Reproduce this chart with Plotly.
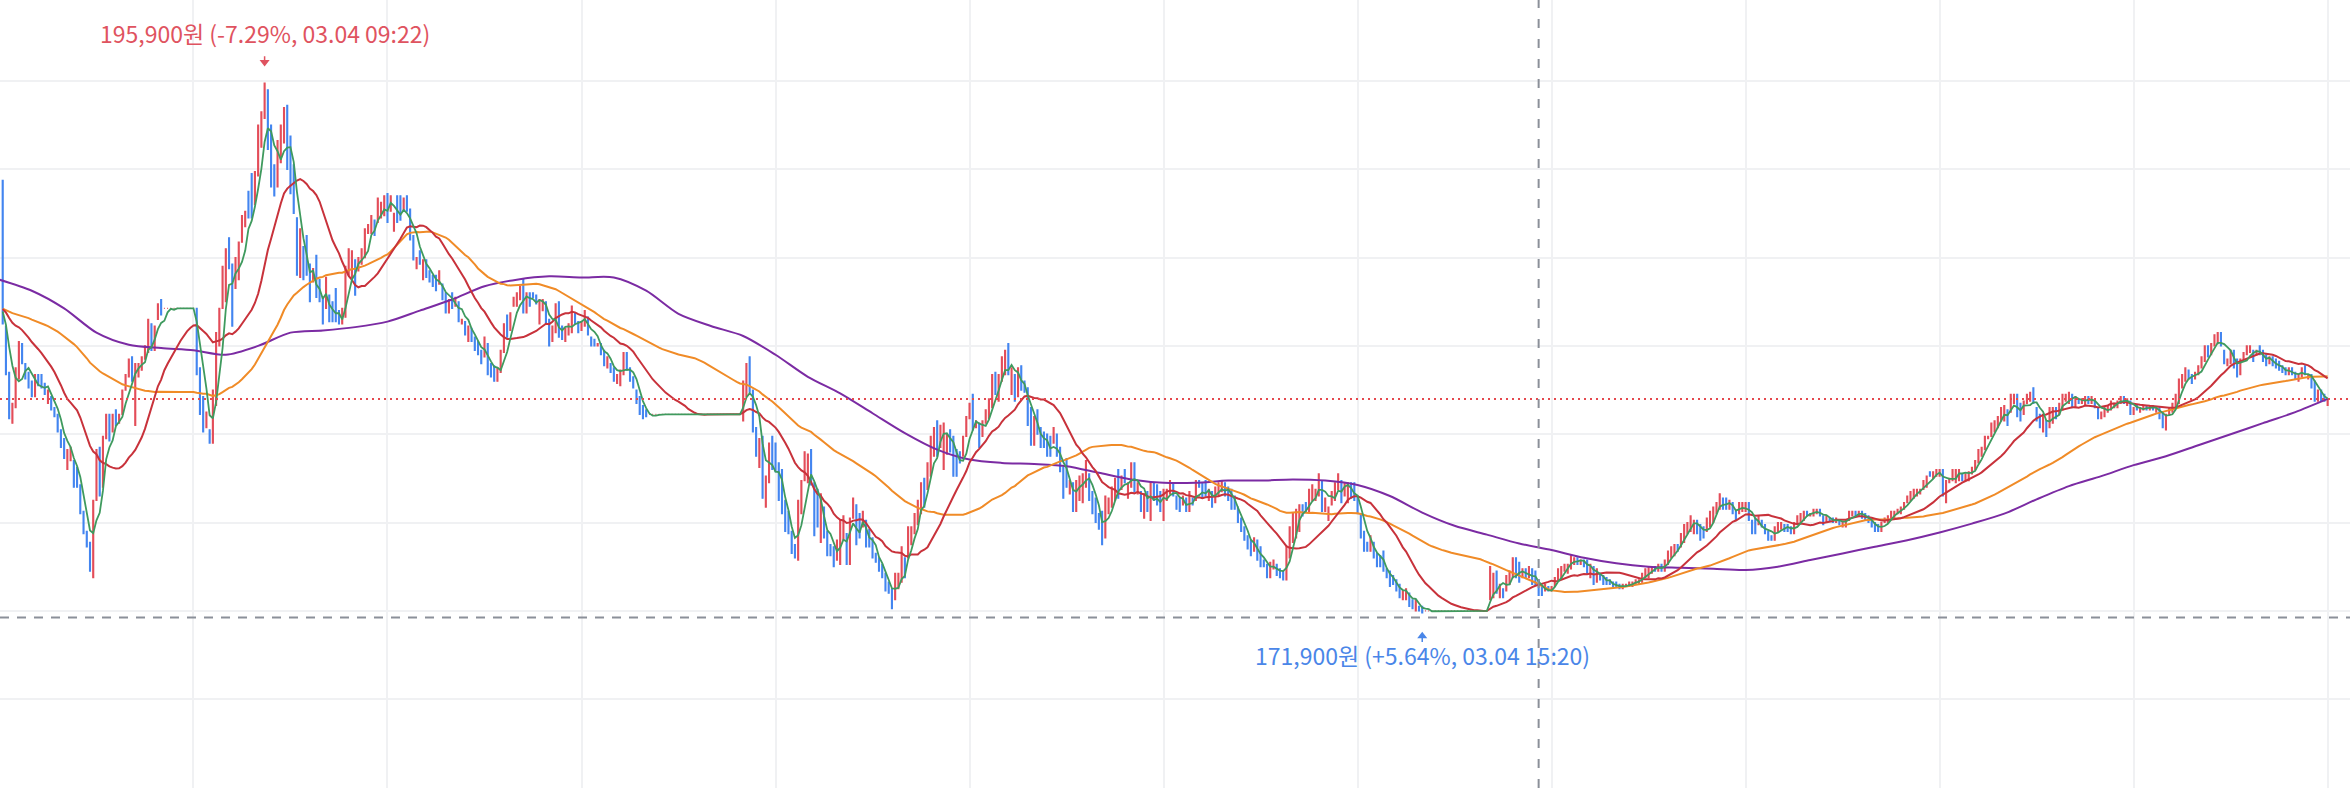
import numpy as np
import pandas as pd
import plotly.graph_objects as go

DAY = "2025-03-04"
UNIT = 100  # candle prices below are listed in units of 100 won

# close carried in from before 08:00 (warm-up level of the moving averages)
prev_close = 1857

# ---------------- 1-minute candles (open / close), runs of consecutive minutes ----------------
open_0801 = [1915, 1849, 1828, 1805, 1812, 1825, 1841, 1832, 1828, 1824,
             1817, 1827, 1827, 1823, 1814, 1817, 1812, 1809, 1802, 1798,
             1784, 1788, 1788, 1785, 1777, 1765, 1756, 1751, 1735, 1770,
             1794, 1776, 1798, 1809, 1801, 1811, 1805, 1809, 1820, 1826,
             1835, 1804, 1826, 1829, 1834, 1837, 1850, 1838, 1852, 1861]
close_0801 = [1850, 1827, 1807, 1814, 1830, 1842, 1832, 1825, 1821, 1817,
              1827, 1822, 1821, 1818, 1820, 1811, 1808, 1801, 1794, 1789,
              1793, 1794, 1776, 1776, 1764, 1755, 1749, 1738, 1770, 1793,
              1772, 1799, 1809, 1797, 1809, 1804, 1809, 1820, 1827, 1834,
              1824, 1832, 1832, 1835, 1840, 1852, 1838, 1849, 1859, 1854]

open_0851 = [1857, 1857, 1857, 1857, 1857, 1857, 1857, 1857, 1857, 1857]
close_0851 = [1857, 1857, 1857, 1857, 1857, 1857, 1857, 1857, 1857, 1857]

open_0901 = [1857, 1830, 1817, 1803, 1802, 1796, 1813, 1840, 1857, 1860,
             1889, 1877, 1866, 1870, 1887, 1894, 1910, 1918, 1904, 1917,
             1930, 1943, 1956, 1940, 1922, 1912, 1923, 1932, 1949, 1935,
             1922, 1898, 1871, 1885, 1890, 1877, 1869, 1881, 1870, 1862,
             1857, 1863, 1860, 1866, 1856, 1850, 1853, 1872, 1871, 1879,
             1874, 1877, 1880, 1891, 1891, 1897, 1896, 1898, 1899, 1909,
             1901, 1892, 1908]
close_0901 = [1827, 1809, 1801, 1810, 1796, 1820, 1846, 1857, 1876, 1884,
              1875, 1849, 1880, 1887, 1899, 1901, 1898, 1898, 1919, 1940,
              1946, 1959, 1929, 1912, 1908, 1933, 1940, 1948, 1920, 1909,
              1900, 1872, 1893, 1870, 1872, 1860, 1875, 1862, 1860, 1850,
              1871, 1851, 1851, 1851, 1850, 1857, 1876, 1884, 1883, 1863,
              1880, 1884, 1893, 1895, 1899, 1890, 1907, 1905, 1908, 1896,
              1908, 1900, 1896]

open_1004 = [1908, 1901, 1908, 1902, 1890, 1875, 1883, 1870, 1879, 1874,
             1872, 1872, 1868, 1868, 1864, 1855, 1864, 1858, 1860, 1850,
             1851, 1842, 1848, 1844, 1842, 1838, 1835, 1841, 1832, 1831,
             1824, 1828, 1837, 1854, 1847, 1858, 1858, 1861, 1870, 1855,
             1864, 1864, 1863, 1850, 1856, 1860, 1852, 1842, 1846, 1860,
             1849, 1842, 1845, 1846, 1855, 1851, 1847, 1849, 1853, 1844,
             1843, 1840, 1841, 1838, 1830, 1832, 1830, 1823, 1822, 1827,
             1837, 1830, 1826, 1820, 1817, 1813, 1811]
close_1004 = [1897, 1907, 1901, 1888, 1879, 1880, 1877, 1879, 1871, 1869,
              1867, 1865, 1874, 1861, 1855, 1861, 1857, 1862, 1851, 1852,
              1845, 1849, 1842, 1838, 1836, 1832, 1844, 1827, 1826, 1824,
              1830, 1838, 1850, 1844, 1855, 1862, 1864, 1867, 1855, 1864,
              1858, 1862, 1859, 1861, 1861, 1850, 1840, 1849, 1859, 1844,
              1843, 1848, 1850, 1858, 1850, 1846, 1851, 1856, 1845, 1840,
              1840, 1841, 1836, 1831, 1835, 1828, 1824, 1827, 1829, 1837,
              1829, 1824, 1821, 1814, 1809, 1807, 1808]

open_1121 = [1809, 1809, 1809, 1809, 1809, 1809, 1809, 1809, 1809, 1809,
             1809, 1809, 1809, 1809, 1809, 1809, 1809, 1809, 1809, 1809,
             1809, 1809, 1809, 1809, 1809, 1809, 1809, 1809, 1809]
close_1121 = [1809, 1809, 1809, 1809, 1809, 1809, 1809, 1809, 1809, 1809,
              1809, 1809, 1809, 1809, 1809, 1809, 1809, 1809, 1809, 1809,
              1809, 1809, 1809, 1809, 1809, 1809, 1809, 1809, 1809]

open_1150 = [1806, 1817, 1835, 1820, 1803, 1785, 1799, 1767, 1778, 1799,
             1796, 1787, 1784, 1770, 1765, 1756, 1750, 1743, 1764, 1779,
             1778, 1793, 1778, 1775, 1751, 1767, 1756, 1750, 1749, 1743,
             1741, 1752, 1755, 1741, 1762, 1768, 1764, 1758, 1761, 1757,
             1753, 1746, 1744, 1741, 1737, 1733, 1730, 1725, 1730, 1733,
             1744, 1744, 1750, 1755, 1759, 1764, 1780, 1775, 1781, 1790,
             1806, 1794, 1784, 1791, 1802, 1799, 1793, 1792, 1790, 1799,
             1807, 1818, 1803, 1805, 1799, 1805, 1807, 1812, 1828, 1815,
             1824, 1827, 1841, 1818, 1827, 1817, 1831, 1824, 1821, 1812,
             1795, 1811, 1803, 1801, 1800, 1799, 1796, 1800, 1794, 1785,
             1789, 1773, 1778, 1765, 1770, 1769, 1776, 1782, 1774, 1771,
             1764, 1765, 1753, 1764, 1767, 1770, 1784, 1775, 1784, 1771,
             1776, 1787, 1773, 1774, 1762, 1774, 1761, 1778, 1777, 1774,
             1761, 1770, 1773, 1778, 1772, 1771, 1768, 1771, 1765, 1771,
             1770]
close_1150 = [1824, 1832, 1819, 1801, 1790, 1798, 1771, 1781, 1796, 1784,
              1783, 1770, 1764, 1756, 1755, 1746, 1744, 1770, 1779, 1792,
              1791, 1777, 1754, 1758, 1773, 1753, 1745, 1745, 1740, 1752,
              1761, 1763, 1741, 1762, 1771, 1750, 1753, 1765, 1749, 1749,
              1744, 1742, 1738, 1735, 1729, 1728, 1721, 1737, 1737, 1749,
              1735, 1758, 1758, 1764, 1770, 1778, 1767, 1787, 1799, 1803,
              1790, 1804, 1805, 1800, 1792, 1781, 1781, 1787, 1799, 1808,
              1814, 1802, 1806, 1794, 1806, 1811, 1816, 1827, 1818, 1827,
              1835, 1838, 1827, 1830, 1815, 1830, 1820, 1819, 1804, 1795,
              1808, 1800, 1794, 1794, 1790, 1790, 1803, 1790, 1783, 1771,
              1776, 1779, 1765, 1779, 1781, 1782, 1788, 1770, 1764, 1760,
              1757, 1750, 1772, 1771, 1776, 1780, 1771, 1781, 1778, 1778,
              1787, 1774, 1778, 1765, 1773, 1765, 1778, 1770, 1768, 1765,
              1775, 1775, 1779, 1772, 1766, 1765, 1772, 1765, 1774, 1768,
              1779]

open_1411 = [1779, 1778, 1779, 1770, 1774, 1769, 1772, 1774, 1778, 1776,
             1775, 1772, 1767, 1762, 1758, 1754, 1752, 1747, 1752, 1749,
             1743, 1741, 1735, 1739, 1741, 1739, 1738, 1734, 1744, 1751,
             1753, 1756, 1768, 1769, 1765, 1770, 1770, 1772, 1779, 1765,
             1761, 1768, 1770, 1775, 1779, 1772, 1769, 1778, 1778, 1772,
             1764, 1756, 1751, 1747, 1751, 1746, 1745, 1747, 1739, 1738,
             1736, 1734, 1732, 1725, 1725, 1728, 1725, 1720, 1722, 1722]
close_1411 = [1776, 1771, 1772, 1775, 1767, 1776, 1778, 1779, 1772, 1770,
              1766, 1766, 1760, 1756, 1752, 1748, 1745, 1753, 1743, 1740,
              1740, 1735, 1742, 1743, 1736, 1735, 1734, 1749, 1758, 1764,
              1766, 1768, 1763, 1765, 1775, 1777, 1775, 1782, 1765, 1771,
              1767, 1774, 1778, 1782, 1769, 1778, 1778, 1771, 1770, 1764,
              1753, 1747, 1747, 1754, 1744, 1740, 1740, 1738, 1735, 1731,
              1732, 1729, 1726, 1729, 1730, 1722, 1721, 1725, 1720, 1719]

open_1521 = [1720, 1720, 1720, 1720, 1720, 1720, 1720, 1720, 1720, 1720,
             1720, 1720, 1720, 1720, 1720, 1720, 1720, 1720, 1720, 1720]
close_1521 = [1720, 1720, 1720, 1720, 1720, 1720, 1720, 1720, 1720, 1720,
              1720, 1720, 1720, 1720, 1720, 1720, 1720, 1720, 1720, 1720]

open_1541 = [1725, 1726, 1738, 1726, 1730, 1729, 1732, 1735, 1744, 1742,
             1735, 1739, 1735, 1739, 1738, 1734, 1731, 1729, 1731, 1729,
             1731, 1734, 1735, 1738, 1737, 1739, 1741, 1744, 1741, 1743,
             1743, 1735, 1740, 1733]
close_1541 = [1740, 1737, 1728, 1732, 1726, 1736, 1738, 1744, 1735, 1733,
              1739, 1735, 1740, 1732, 1732, 1727, 1727, 1732, 1729, 1731,
              1735, 1739, 1740, 1741, 1741, 1745, 1744, 1741, 1743, 1740,
              1737, 1741, 1732, 1739]

open_1615 = [1737, 1736, 1735, 1734, 1733, 1733, 1732, 1730, 1731, 1731,
             1731, 1732, 1732, 1733, 1735, 1735, 1737, 1740, 1738, 1741,
             1738, 1741, 1744, 1745, 1750, 1749, 1751, 1755, 1756, 1755,
             1761, 1759, 1758, 1756, 1758, 1760, 1764, 1766, 1771, 1771,
             1766, 1769, 1765, 1764, 1765, 1765, 1769, 1761, 1762, 1759,
             1761, 1759, 1756, 1754, 1752, 1756, 1757, 1759, 1759, 1758,
             1755, 1759, 1760, 1761, 1765, 1763, 1763, 1764, 1766, 1763,
             1760, 1762, 1762, 1760, 1761, 1758, 1758, 1761, 1763, 1765,
             1763, 1765, 1764, 1763, 1762, 1760, 1759, 1756, 1760, 1760,
             1762, 1762, 1764, 1764, 1766, 1769, 1770, 1771, 1772, 1773,
             1775, 1776, 1783, 1780, 1781, 1781, 1784, 1769, 1778, 1779,
             1778, 1779, 1782, 1779, 1779, 1782, 1784, 1787, 1790, 1793,
             1798, 1799, 1801, 1803]
close_1615 = [1734, 1732, 1732, 1732, 1731, 1731, 1730, 1732, 1732, 1733,
              1733, 1734, 1734, 1737, 1739, 1740, 1740, 1738, 1741, 1738,
              1743, 1747, 1749, 1750, 1747, 1755, 1759, 1760, 1763, 1761,
              1755, 1752, 1753, 1762, 1765, 1767, 1769, 1773, 1766, 1766,
              1770, 1764, 1761, 1769, 1769, 1769, 1761, 1755, 1755, 1763,
              1758, 1755, 1752, 1752, 1758, 1760, 1760, 1756, 1756, 1755,
              1760, 1763, 1764, 1765, 1763, 1764, 1766, 1766, 1763, 1759,
              1763, 1761, 1760, 1762, 1759, 1760, 1761, 1765, 1765, 1763,
              1765, 1762, 1761, 1760, 1758, 1756, 1756, 1760, 1762, 1763,
              1765, 1765, 1766, 1767, 1769, 1772, 1774, 1775, 1775, 1775,
              1779, 1781, 1781, 1783, 1784, 1784, 1772, 1779, 1780, 1784,
              1784, 1784, 1779, 1782, 1783, 1785, 1788, 1793, 1794, 1799,
              1799, 1805, 1806, 1808]

open_1819 = [1806, 1806, 1811, 1810, 1814, 1818, 1814, 1809, 1814, 1815,
             1821, 1812, 1809, 1801, 1806, 1803, 1805, 1812, 1809, 1811,
             1815, 1814, 1818, 1812, 1816, 1814, 1813, 1817, 1814, 1815,
             1812, 1807, 1808, 1810, 1811, 1812, 1812, 1814, 1817, 1813,
             1815, 1809, 1813, 1810, 1811, 1813, 1811, 1813, 1810, 1812,
             1810, 1802, 1809, 1810, 1812, 1814, 1821, 1824, 1829, 1827,
             1825, 1827, 1830, 1833, 1840, 1836, 1840, 1841, 1846, 1838,
             1831, 1832, 1838, 1834, 1827, 1834, 1836, 1837, 1838, 1836,
             1840, 1838, 1836, 1832, 1835, 1834, 1833, 1831, 1830, 1827,
             1830, 1828, 1824, 1826, 1831, 1825, 1827, 1824, 1815, 1820,
             1818, 1813]
close_1819 = [1812, 1813, 1804, 1818, 1818, 1808, 1806, 1815, 1818, 1819,
              1814, 1806, 1803, 1809, 1799, 1812, 1812, 1807, 1814, 1818,
              1818, 1819, 1812, 1817, 1814, 1816, 1817, 1814, 1817, 1812,
              1807, 1810, 1812, 1813, 1815, 1814, 1815, 1817, 1814, 1816,
              1809, 1812, 1811, 1812, 1813, 1811, 1813, 1811, 1812, 1807,
              1803, 1809, 1812, 1814, 1818, 1825, 1827, 1830, 1825, 1823,
              1828, 1831, 1835, 1840, 1835, 1841, 1845, 1846, 1840, 1832,
              1834, 1838, 1830, 1826, 1834, 1837, 1840, 1840, 1833, 1838,
              1836, 1833, 1831, 1835, 1831, 1830, 1829, 1828, 1827, 1830,
              1827, 1825, 1827, 1830, 1827, 1827, 1821, 1815, 1820, 1815,
              1815, 1816]

# 120-minute average (purple), every 10 minutes from 08:00
ma120_read = [187000, 186500, 185700, 184600, 184050, 183900, 183800, 183600, 184000, 184600,
              184700, 184850, 185100, 185600, 186100, 186700, 187000, 187150, 187100, 187100,
              186500, 185450, 184900, 184450, 183600, 182600, 181850, 180950, 180050, 179300,
              178850, 178700, 178650, 178550, 178250, 177950, 177800, 177800, 177900, 177900,
              177950, 177900, 177700, 177200, 176450, 175850, 175450, 175050, 174750, 174400,
              174150, 174000, 173950, 173900, 173850, 174000, 174300, 174600, 174900, 175200,
              175550, 175950, 176400, 177050, 177650, 178100, 178600, 179000, 179500, 180000,
              180500, 181000, 181600]

# reference levels / labels
high_price, high_time = 195900, "09:22"
low_price, low_time = 171900, "15:20"
current_price = 181600
low_guide = 171700
cursor_time = "15:56"
high_label = "195,900원 (-7.29%, 03.04 09:22)"
low_label = "171,900원 (+5.64%, 03.04 15:20)"

# ---------------- assemble ----------------
segments = [
    ("08:01", open_0801, close_0801),
    ("08:51", open_0851, close_0851),
    ("09:01", open_0901, close_0901),
    ("10:04", open_1004, close_1004),
    ("11:21", open_1121, close_1121),
    ("11:50", open_1150, close_1150),
    ("14:11", open_1411, close_1411),
    ("15:21", open_1521, close_1521),
    ("15:41", open_1541, close_1541),
    ("16:15", open_1615, close_1615),
    ("18:19", open_1819, close_1819),
]
times, opens, closes = [], [], []
for start, o_, c_ in segments:
    n = min(len(o_), len(c_))
    times += list(pd.date_range(pd.Timestamp(f"{DAY} {start}"), periods=n, freq="min"))
    opens += o_[:n]
    closes += c_[:n]
o = np.array(opens, dtype=float) * UNIT
c = np.array(closes, dtype=float) * UNIT
hi = np.maximum(o, c)
lo = np.minimum(o, c)

warm = pd.Series([prev_close * UNIT] * 119 + list(c))
def sma(n):
    return warm.rolling(n).mean().iloc[119:].values

ma5, ma20, ma60 = sma(5), sma(20), sma(60)
ma120_times = pd.date_range(pd.Timestamp(f"{DAY} 08:00"), periods=len(ma120_read), freq="10min")

RED = "#e34d59"
BLUE = "#4385f0"
GRID = "#f0f1f3"
GUIDE = "#8b9099"
TXT_RED = "#df5360"
TXT_BLUE = "#4a86e8"
FONT = "Noto Sans CJK KR, Noto Sans, sans-serif"

fig = go.Figure()
fig.add_trace(go.Candlestick(
    x=times, open=o, high=hi, low=lo, close=c,
    increasing=dict(line=dict(color=RED, width=1.2), fillcolor=RED),
    decreasing=dict(line=dict(color=BLUE, width=1.2), fillcolor=BLUE),
    whiskerwidth=0, hoverinfo="skip", showlegend=False,
))
fig.add_trace(go.Scatter(x=ma120_times, y=ma120_read, mode="lines",
                         line=dict(color="#7b2ba3", width=2, shape="spline", smoothing=0.8),
                         hoverinfo="skip"))
fig.add_trace(go.Scatter(x=times, y=ma60, mode="lines",
                         line=dict(color="#f08b27", width=2), hoverinfo="skip"))
fig.add_trace(go.Scatter(x=times, y=ma20, mode="lines",
                         line=dict(color="#c8323b", width=2), hoverinfo="skip"))
fig.add_trace(go.Scatter(x=times, y=ma5, mode="lines",
                         line=dict(color="#3f9a5e", width=1.8), hoverinfo="skip"))

fig.add_shape(type="line", xref="paper", x0=0, x1=1, yref="y", y0=current_price, y1=current_price,
              line=dict(color="#e5484d", width=2, dash="2px,4px"))
fig.add_shape(type="line", xref="paper", x0=0, x1=1, yref="y", y0=low_guide, y1=low_guide,
              line=dict(color=GUIDE, width=2, dash="9px,8px"))
fig.add_shape(type="line", xref="x", x0=f"{DAY} {cursor_time}", x1=f"{DAY} {cursor_time}",
              yref="paper", y0=0, y1=1, line=dict(color=GUIDE, width=2, dash="9px,11px"))

# small arrows pointing at the high / low (drawn as pixel-sized shapes)
fig.add_shape(type="path", xref="x", yref="y",
              xsizemode="pixel", xanchor=f"{DAY} {high_time}",
              ysizemode="pixel", yanchor=high_price,
              path="M 0 27 L 0 22 M -3.5 22.5 L 3.5 22.5 L 0 18 Z",
              fillcolor=TXT_RED, line=dict(color=TXT_RED, width=1.5))
fig.add_shape(type="path", xref="x", yref="y",
              xsizemode="pixel", xanchor=f"{DAY} {low_time}",
              ysizemode="pixel", yanchor=low_price,
              path="M 0 -29 L 0 -24 M -3.5 -24.5 L 3.5 -24.5 L 0 -20 Z",
              fillcolor=TXT_BLUE, line=dict(color=TXT_BLUE, width=1.5))

fig.add_annotation(x=f"{DAY} {high_time}", y=high_price, text=high_label, showarrow=False,
                   xanchor="center", yanchor="middle", yshift=50,
                   font=dict(family=FONT, size=23, color=TXT_RED))
fig.add_annotation(x=f"{DAY} {low_time}", y=low_price, text=low_label, showarrow=False,
                   xanchor="center", yanchor="middle", yshift=-42,
                   font=dict(family=FONT, size=23, color=TXT_BLUE))

fig.update_layout(
    width=2350, height=788,
    margin=dict(l=0, r=0, t=0, b=0),
    paper_bgcolor="white", plot_bgcolor="white",
    showlegend=False, hovermode=False,
    boxgap=0.6,
    xaxis=dict(type="date", range=[f"{DAY} 08:00:10", f"{DAY} 20:06:55"],
               showgrid=True, gridcolor=GRID, gridwidth=2,
               tick0=f"{DAY} 08:00", dtick=3600000,
               showticklabels=False, ticks="", zeroline=False, showline=False,
               rangeslider=dict(visible=False)),
    yaxis=dict(range=[163973, 199669], showgrid=True, gridcolor=GRID, gridwidth=2,
               tick0=0, dtick=4000, showticklabels=False, ticks="", zeroline=False, showline=False),
)

fig.write_html("out.html", config={"displayModeBar": False},
               post_script="document.body.style.margin='0';")
